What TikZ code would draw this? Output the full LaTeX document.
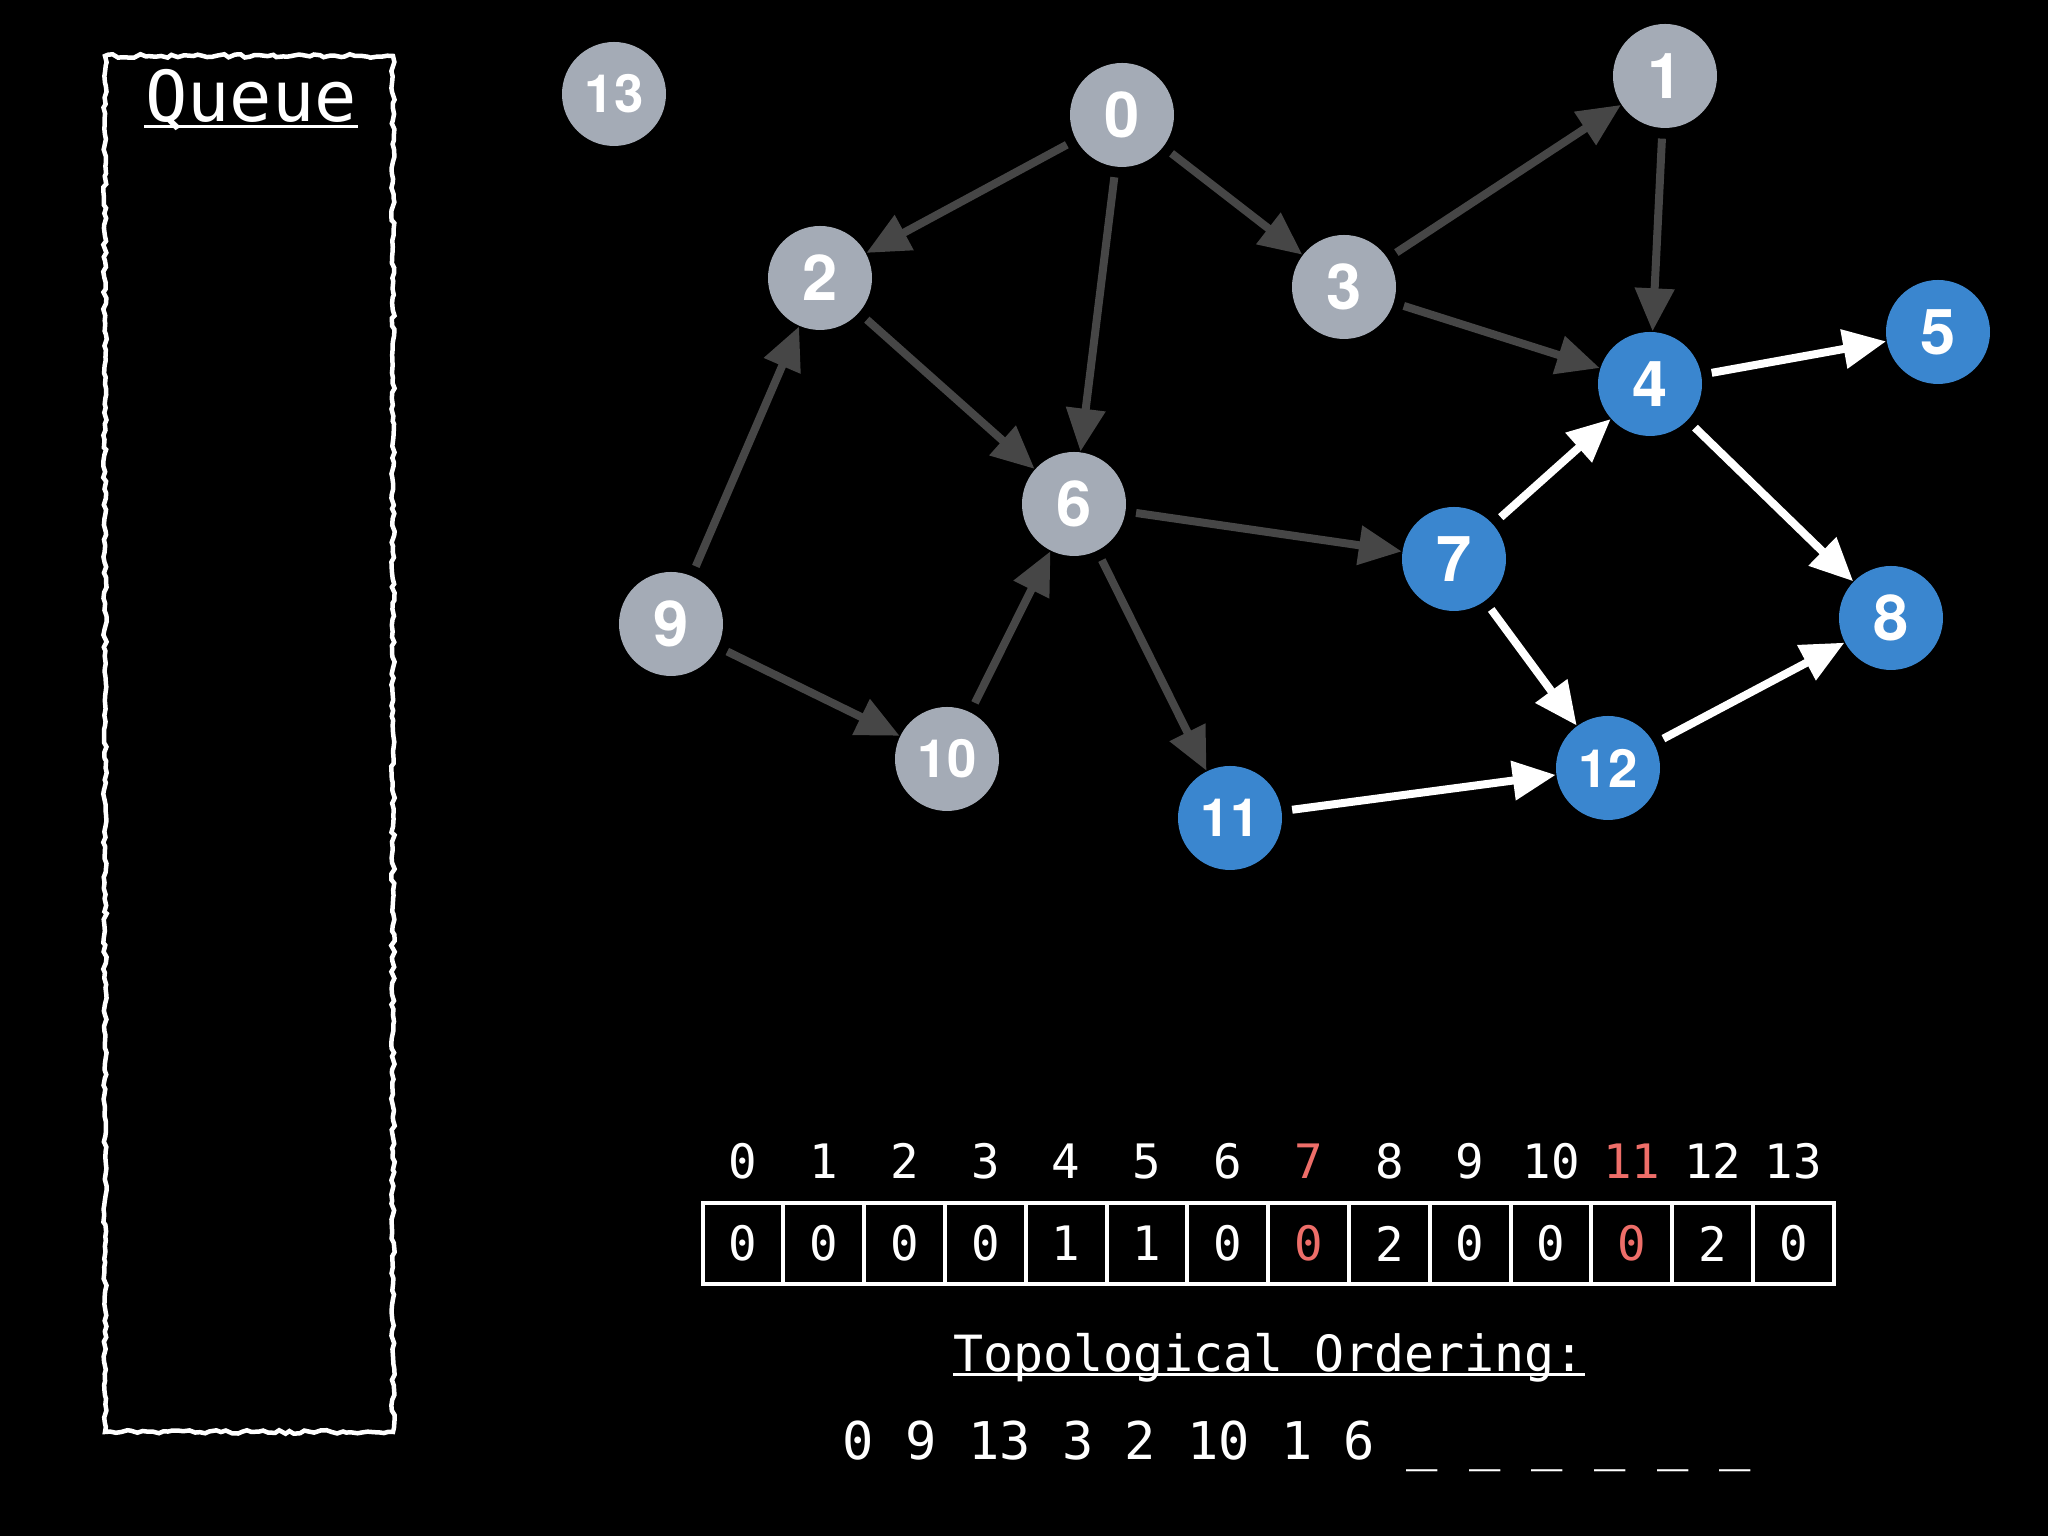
\documentclass[tikz,border=0pt]{standalone}
\usepackage{fontspec}
\setmonofont{DejaVu Sans Mono}
\newfontfamily\vtxfont{TeX Gyre Heros}
\usetikzlibrary{arrows.meta, decorations.pathmorphing}
\definecolor{VGray}{HTML}{A4ABB6}
\definecolor{VBlue}{HTML}{3A86CF}
\definecolor{EdgeGray}{HTML}{464646}
\definecolor{HotRed}{HTML}{EE6E69}

\begin{document}
\begin{tikzpicture}[
  >={Triangle[length=4.3mm, width=3.8mm]},
  vtx/.style={circle, inner sep=0pt, minimum size=10.4mm, text=white,
              font=\vtxfont\bfseries\fontsize{18}{18}\selectfont},
  seen/.style={vtx, fill=VGray},
  ready/.style={vtx, fill=VBlue},
  twodig/.style={font=\vtxfont\bfseries\fontsize{15}{15}\selectfont},
  arr/.style={->, draw=EdgeGray, line width=0.8mm, shorten <=1mm},
  live/.style={arr, draw=white},
  mono/.style={text=white, anchor=base, font=\ttfamily\fontsize{13.5}{16}\selectfont},
  cell/.style={draw=white, line width=0.4mm, minimum width=8.08mm, minimum height=8.1mm,
               inner sep=0pt, font=\ttfamily\fontsize{13.5}{16}\selectfont},
  uline/.style={draw=white, line width=0.3mm},
]
\fill[black] (0,0) rectangle (20.48,15.36);
\useasboundingbox (0,0) rectangle (20.48,15.36);
\pgfmathsetseed{7}

\node[draw=white, line width=0.45mm, decorate,
      decoration={random steps, segment length=1.5pt, amplitude=0.5pt},
      minimum width=28.8mm, minimum height=137.6mm] (queue) at (2.49,7.92) {};
\node[mono, inner xsep=0pt, font=\ttfamily\fontsize{20}{24}\selectfont] (qtitle) at (2.51,14.14) {Queue};
\draw[uline] ([yshift=-0.5mm]qtitle.base west) -- ([yshift=-0.5mm]qtitle.base east);

\node[seen, twodig] (v13) at (6.14,14.42) {13};
\node[seen] (v0) at (11.22,14.21) {0};
\node[seen] (v1) at (16.65,14.60) {1};
\node[seen] (v2) at (8.20,12.58) {2};
\node[seen] (v3) at (13.44,12.49) {3};
\node[ready] (v4) at (16.50,11.52) {4};
\node[ready] (v5) at (19.38,12.04) {5};
\node[seen] (v6) at (10.74,10.32) {6};
\node[ready] (v7) at (14.54,9.77) {7};
\node[ready] (v8) at (18.91,9.18) {8};
\node[seen] (v9) at (6.71,9.12) {9};
\node[seen, twodig] (v10) at (9.47,7.77) {10};
\node[ready, twodig] (v11) at (12.30,7.18) {11};
\node[ready, twodig] (v12) at (16.08,7.68) {12};

\draw[arr] (v0) -- (v2);
\draw[arr] (v0) -- (v6);
\draw[arr] (v0) -- (v3);
\draw[arr] (v3) -- (v1);
\draw[arr] (v3) -- (v4);
\draw[arr] (v1) -- (v4);
\draw[arr] (v2) -- (v6);
\draw[arr] (v9) -- (v2);
\draw[arr] (v9) -- (v10);
\draw[arr] (v10) -- (v6);
\draw[arr] (v6) -- (v7);
\draw[arr] (v6) -- (v11);
\draw[live] (v4) -- (v5);
\draw[live] (v4) -- (v8);
\draw[live] (v7) -- (v4);
\draw[live] (v7) -- (v12);
\draw[live] (v11) -- (v12);
\draw[live] (v12) -- (v8);

\foreach \v/\c [count=\i from 0] in {0/white,0/white,0/white,0/white,1/white,1/white,0/white,
                                     0/HotRed,2/white,0/white,0/white,0/HotRed,2/white,0/white} {
  \node[mono, text=\c] (idx\i) at ({7.43+0.808*\i},3.57) {\i};
  \node[cell, text=\c] (cell\i) at ({7.43+0.808*\i},2.925) {\v};
}

\node[mono, inner xsep=0pt, font=\ttfamily\fontsize{14.2}{16}\selectfont] (toptitle) at (12.69,1.64)
  {Topological Ordering:};
\draw[uline] ([yshift=-0.3mm]toptitle.base west) -- ([yshift=-0.3mm]toptitle.base east);
\node[mono, font=\ttfamily\fontsize{14.8}{16}\selectfont] (order) at (12.97,0.76)
  {0 9 13 3 2 10 1 6 \_ \_ \_ \_ \_ \_};
\end{tikzpicture}
\end{document}
